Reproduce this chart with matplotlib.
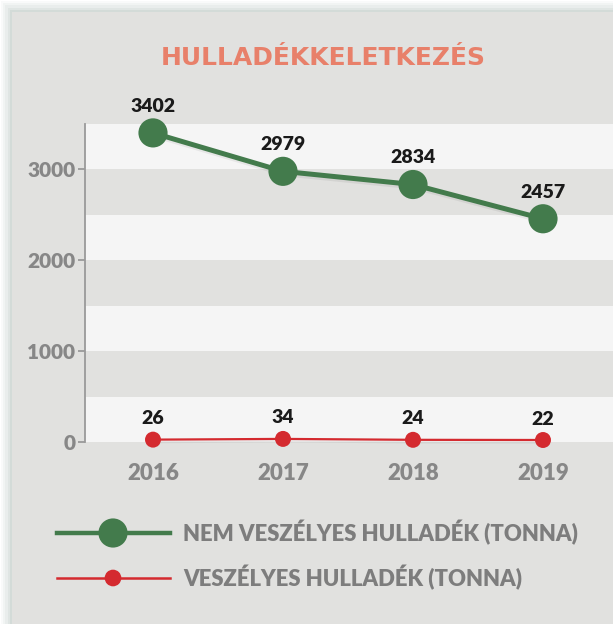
import matplotlib
matplotlib.use("Agg")
import matplotlib.pyplot as plt
from matplotlib.patches import Rectangle
from matplotlib.lines import Line2D
import matplotlib.patheffects as pe

years = [2016, 2017, 2018, 2019]
non_hazardous = [3402, 2979, 2834, 2457]
hazardous = [26, 34, 24, 22]
yticks = [0, 1000, 2000, 3000]
title = "HULLADÉKKELETKEZÉS"
label_nh = "NEM VESZÉLYES HULLADÉK (TONNA)"
label_h = "VESZÉLYES HULLADÉK (TONNA)"

W, H = 613, 624
fig = plt.figure(figsize=(W / 100, H / 100), dpi=100)
fig.patch.set_facecolor("white")

BG = "#e1e1df"
LIGHT = "#f5f5f5"
GREEN = "#437b4c"
RED = "#d42a2f"
GREY_TXT = "#7d7d7d"

# card shadow + card
for i, a in enumerate([0.04, 0.05, 0.06, 0.08, 0.10]):
    off = (5 - i) * 2.2
    fig.patches.append(Rectangle(((12 - off) / W, 0), 1, (H - 12 + off) / H,
                                 transform=fig.transFigure, facecolor="#6f8a80",
                                 alpha=a, edgecolor="none", zorder=-3))
fig.patches.append(Rectangle((12 / W, 0), 1, (H - 12) / H, transform=fig.transFigure,
                             facecolor=BG, edgecolor="none", zorder=-2))

ax = fig.add_axes([85 / W, 1 - 442 / H, 1 - 85 / W, (442 - 124) / H])
ax.set_facecolor("none")
ax.set_xlim(2016 - 68 / 130, 2016 + (613 - 153) / 130)
ax.set_ylim(0, 3500)

# stripes
for k in range(7):
    ax.axhspan(k * 500, (k + 1) * 500, color=LIGHT if k % 2 == 0 else BG, zorder=0, lw=0)

shadow = [pe.SimpleLineShadow(offset=(1.0, -1.8), shadow_color="black", alpha=0.06), pe.Normal()]
ax.plot(years, non_hazardous, color=GREEN, lw=3.6, marker="o", markersize=21,
        markeredgewidth=0, zorder=3, clip_on=False, path_effects=shadow)
ax.plot(years, hazardous, color=RED, lw=1.6, marker="o", markersize=11.5,
        markeredgewidth=0, zorder=3, clip_on=False, path_effects=shadow)

for x, v in zip(years, non_hazardous):
    ax.annotate(str(v), (x, v), xytext=(0, 13), textcoords="offset points",
                ha="center", va="bottom", fontsize=14, fontweight="heavy",
                color="#1a1a1a", family="Lato")
for x, v in zip(years, hazardous):
    ax.annotate(str(v), (x, v), xytext=(0, 9), textcoords="offset points",
                ha="center", va="bottom", fontsize=14, fontweight="heavy",
                color="#1a1a1a", family="Lato")

for s in ["top", "right", "bottom"]:
    ax.spines[s].set_visible(False)
ax.spines["left"].set_color("#9a9a9a")
ax.spines["left"].set_linewidth(1.3)
ax.set_yticks(yticks)
ax.set_yticklabels([str(t) for t in yticks])
ax.tick_params(axis="y", length=5, width=1.3, color="#9a9a9a", pad=2,
               labelsize=15, labelcolor="#878787")
for lab in ax.get_yticklabels():
    lab.set_fontweight("heavy")
    lab.set_family("Lato")
ax.set_xticks(years)
ax.set_xticklabels([str(y) for y in years])
ax.tick_params(axis="x", length=0, pad=15, labelsize=16, labelcolor="#878787")
for lab in ax.get_xticklabels():
    lab.set_fontweight("heavy")
    lab.set_family("Lato")

fig.text(323 / W, 1 - 58 / H, title, ha="center", va="center", fontsize=18,
         fontweight="bold", color="#e8806a", family="DejaVu Sans")

# legend
for yy, col, lw, ms, lab in [(533, GREEN, 3.2, 21, label_nh), (578, RED, 1.8, 12, label_h)]:
    fig.add_artist(Line2D([57 / W, 170 / W], [1 - yy / H, 1 - yy / H], color=col, lw=lw,
                          transform=fig.transFigure, zorder=5))
    fig.add_artist(Line2D([113 / W], [1 - yy / H], color=col, marker="o", markersize=ms,
                          markeredgewidth=0, transform=fig.transFigure, zorder=6,
                          path_effects=shadow))
    fig.text(183 / W, 1 - yy / H, lab, ha="left", va="center", fontsize=15.9,
             fontweight="heavy", color=GREY_TXT, family="Lato")

fig.savefig("out.png", dpi=100, facecolor=fig.get_facecolor())
